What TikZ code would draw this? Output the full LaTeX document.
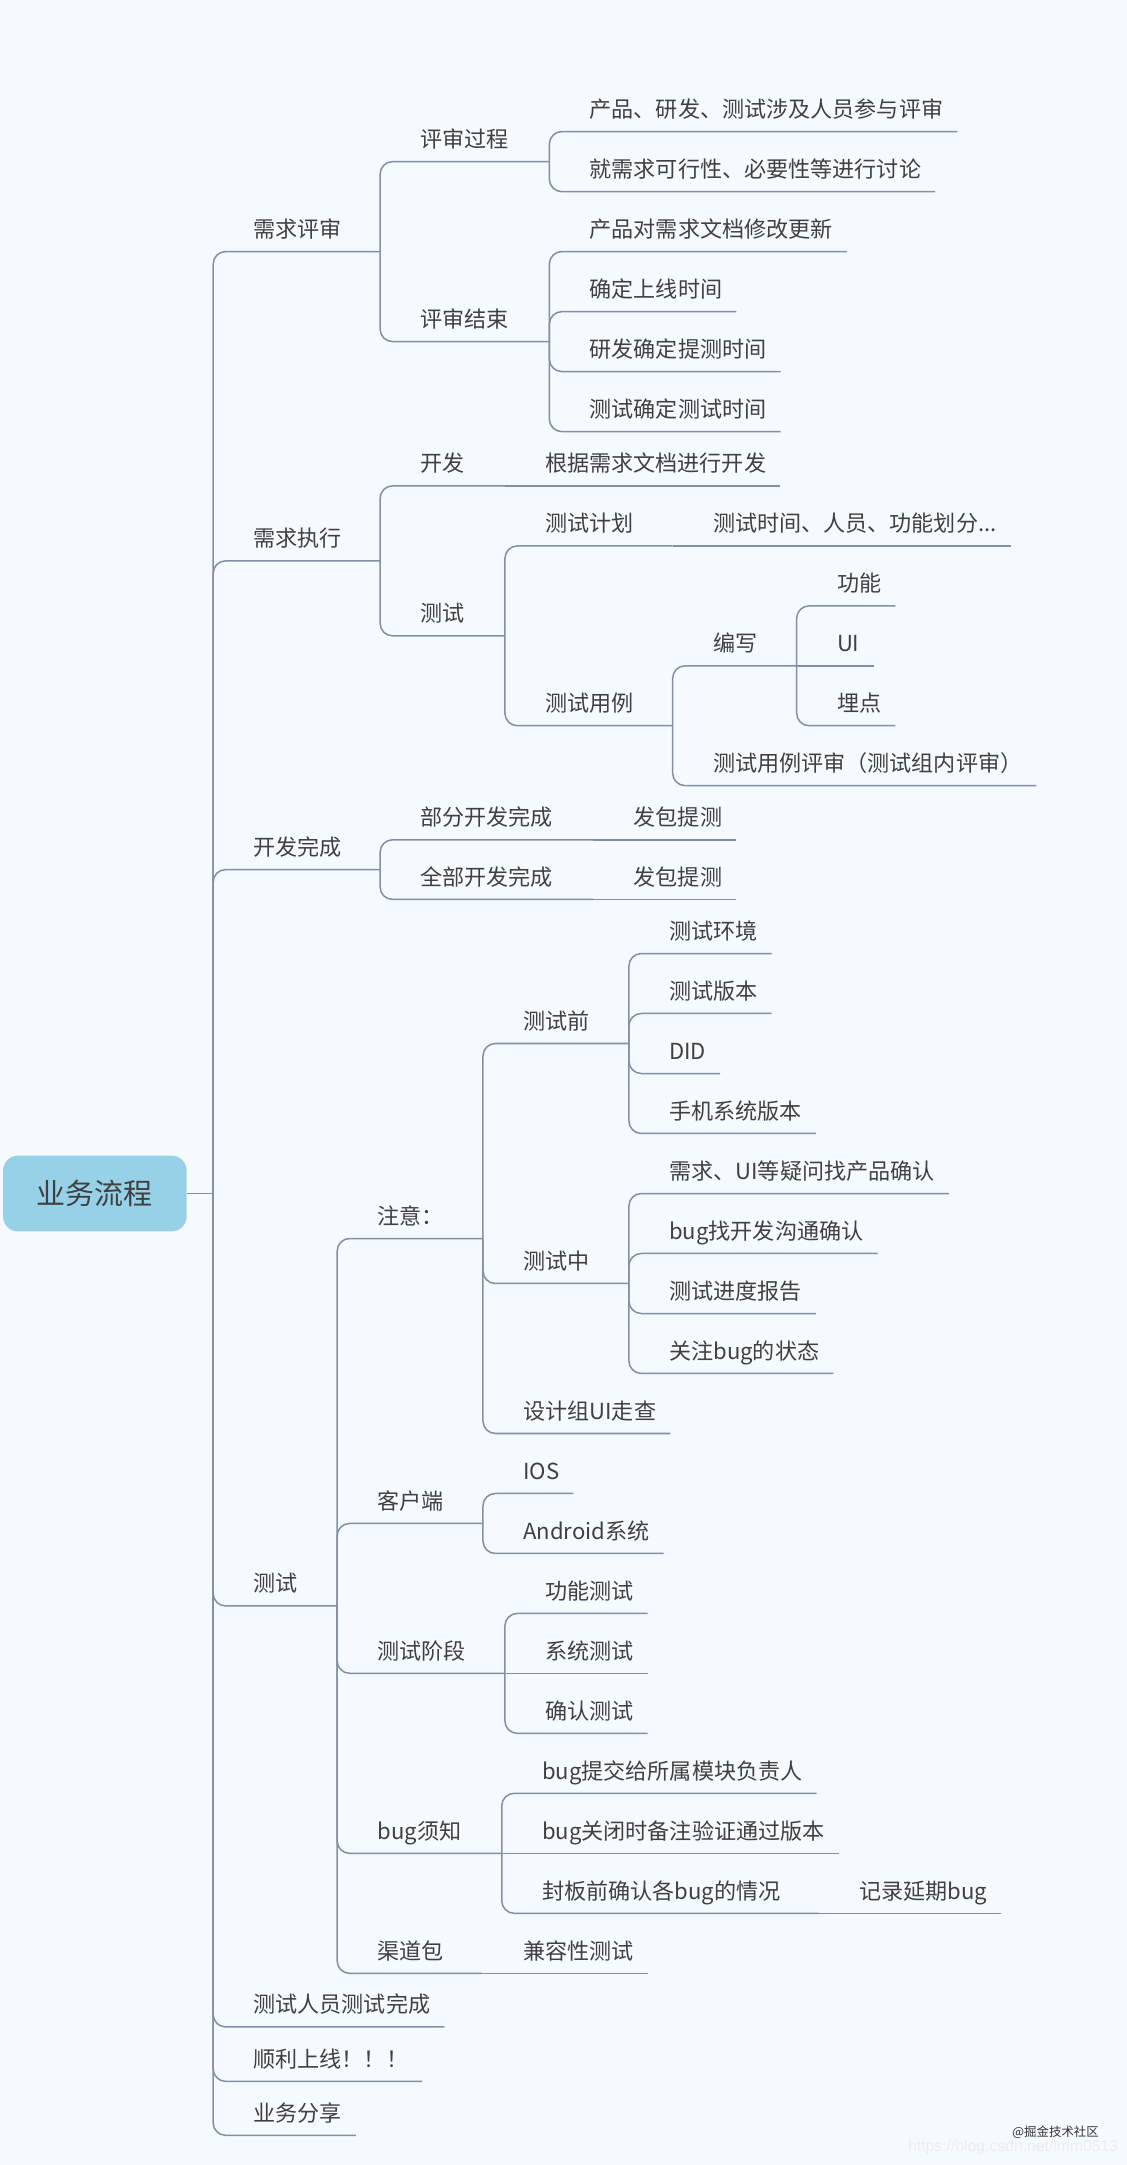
\documentclass[tikz,border=0pt]{standalone}
\usepackage{fontspec}
\setmainfont{Noto Sans CJK SC}
\newfontfamily\urlfont{Liberation Sans}
\usetikzlibrary{positioning, calc}
\definecolor{PaperBlue}{RGB}{245,250,254}
\definecolor{LineGrey}{RGB}{131,143,163}
\definecolor{TextGrey}{RGB}{64,64,64}
\definecolor{RootBlue}{RGB}{150,209,231}

\begin{document}
\begin{tikzpicture}[
    x=1pt, y=-1pt,
    topic/.style={anchor=south west, inner xsep=10pt, inner ysep=6pt,
        text height=12pt, text depth=4pt, text=TextGrey,
        font=\fontsize{16}{18}\selectfont},
    root/.style={fill=RootBlue, rounded corners=11pt, minimum width=133pt,
        minimum height=55pt, inner sep=0pt, text=TextGrey,
        text height=16pt, text depth=0pt, font=\fontsize{21}{24}\selectfont},
    link/.style={draw=LineGrey, line width=1.1pt, rounded corners=9pt},
]
\path[use as bounding box, fill=PaperBlue] (0,0) rectangle (816,1568);

% ---- 中心主题 ----
\node[root] (flow) at (68.7,864.4) {业务流程};
\coordinate (b-flow) at (154.4,864.4);
\draw[link] (flow.east) -- (b-flow);

% ---- 一级主题 ----
\node[topic] (review) at (173.4,182.2)  {需求评审};
\node[topic] (exec)   at (173.4,406.2)  {需求执行};
\node[topic] (done)   at (173.4,629.8)  {开发完成};
\node[topic] (test)   at (173.4,1163.1) {测试};
\node[topic] (finish) at (173.4,1468.0) {测试人员测试完成};
\node[topic] (online) at (173.4,1507.4) {顺利上线！！！};
\node[topic] (share)  at (173.4,1546.5) {业务分享};
\coordinate (b-review) at (275.3,182.2);
\coordinate (b-exec)   at (275.3,406.2);
\coordinate (b-done)   at (275.3,629.8);
\coordinate (b-test)   at (244.2,1163.1);
\foreach \c/\e in {review/b-review, exec/b-exec, done/b-done, test/b-test,
    finish/finish.south east, online/online.south east, share/share.south east}
    \draw[link] (b-flow) |- (\c.south west) -- (\e);

% ---- 需求评审 ----
\node[topic] (proc)  at (294.3,117.05) {评审过程};
\node[topic] (close) at (294.3,247.4)  {评审结束};
\coordinate (b-proc)  at (397.9,117.05);
\coordinate (b-close) at (397.9,247.4);
\node[topic] (proc-a)  at (416.9,95.3)  {产品、研发、测试涉及人员参与评审};
\node[topic] (proc-b)  at (416.9,138.8) {就需求可行性、必要性等进行讨论};
\node[topic] (close-a) at (416.9,182.2) {产品对需求文档修改更新};
\node[topic] (close-b) at (416.9,225.7) {确定上线时间};
\node[topic] (close-c) at (416.9,269.1) {研发确定提测时间};
\node[topic] (close-d) at (416.9,312.6) {测试确定测试时间};
\foreach \c/\e in {proc/b-proc, close/b-close} \draw[link] (b-review) |- (\c.south west) -- (\e);
\foreach \c in {proc-a, proc-b} \draw[link] (b-proc) |- (\c.south west) -- (\c.south east);
\foreach \c in {close-a, close-b, close-c, close-d} \draw[link] (b-close) |- (\c.south west) -- (\c.south east);

% ---- 需求执行 ----
\node[topic] (dev) at (294.3,351.9) {开发};
\node[topic] (qa)  at (294.3,460.5) {测试};
\coordinate (b-dev) at (365.7,351.9);
\coordinate (b-qa)  at (365.7,460.5);
\node[topic] (dev-a) at (384.7,351.9) {根据需求文档进行开发};
\node[topic] (plan)  at (384.7,395.4) {测试计划};
\node[topic] (case)  at (384.7,525.6) {测试用例};
\coordinate (b-plan) at (487.2,395.4);
\coordinate (b-case) at (487.2,525.6);
\node[topic] (plan-a)   at (506.2,395.4) {测试时间、人员、功能划分...};
\node[topic] (write)    at (506.2,482.2) {编写};
\node[topic] (case-rev) at (506.2,569.0) {测试用例评审（测试组内评审）};
\coordinate (b-write) at (577.0,482.2);
\node[topic] (write-a) at (596.0,438.8) {功能};
\node[topic] (write-b) at (596.0,482.2) {UI};
\node[topic] (write-c) at (596.0,525.6) {埋点};
\foreach \c/\e in {dev/b-dev, qa/b-qa} \draw[link] (b-exec) |- (\c.south west) -- (\e);
\draw[link] (b-dev) -- (dev-a.south west) -- (dev-a.south east);
\foreach \c/\e in {plan/b-plan, case/b-case} \draw[link] (b-qa) |- (\c.south west) -- (\e);
\draw[link] (b-plan) -- (plan-a.south west) -- (plan-a.south east);
\draw[link] (b-case) |- (write.south west) -- (b-write);
\draw[link] (b-case) |- (case-rev.south west) -- (case-rev.south east);
\foreach \c in {write-a, write-c} \draw[link] (b-write) |- (\c.south west) -- (\c.south east);
\draw[link] (b-write) -- (write-b.south west) -- (write-b.south east);

% ---- 开发完成 ----
\node[topic] (part) at (294.3,608.2) {部分开发完成};
\node[topic] (full) at (294.3,651.4) {全部开发完成};
\coordinate (b-part) at (429.8,608.2);
\coordinate (b-full) at (429.8,651.4);
\node[topic] (part-a) at (448.8,608.2) {发包提测};
\node[topic] (full-a) at (448.8,651.4) {发包提测};
\foreach \c/\e in {part/b-part, full/b-full} \draw[link] (b-done) |- (\c.south west) -- (\e);
\foreach \p/\c in {b-part/part-a, b-full/full-a} \draw[link] (\p) -- (\c.south west) -- (\c.south east);

% ---- 测试 ----
\node[topic] (note)    at (263.2,897.0)   {注意：};
\node[topic] (client)  at (263.2,1103.35) {客户端};
\node[topic] (stage)   at (263.2,1211.9)  {测试阶段};
\node[topic] (bugs)    at (263.2,1342.3)  {bug须知};
\node[topic] (channel) at (263.2,1429.2)  {渠道包};
\coordinate (b-note)    at (349.8,897.0);
\coordinate (b-client)  at (349.8,1103.35);
\coordinate (b-stage)   at (365.7,1211.9);
\coordinate (b-bugs)    at (363.4,1342.3);
\coordinate (b-channel) at (349.6,1429.2);
\foreach \c/\e in {note/b-note, client/b-client, stage/b-stage, bugs/b-bugs, channel/b-channel}
    \draw[link] (b-test) |- (\c.south west) -- (\e);

% 注意
\node[topic] (before) at (368.8,755.75) {测试前};
\node[topic] (during) at (368.8,929.55) {测试中};
\node[topic] (walk)   at (368.8,1038.2) {设计组UI走查};
\coordinate (b-before) at (455.5,755.75);
\coordinate (b-during) at (455.5,929.55);
\foreach \c/\e in {before/b-before, during/b-during, walk/walk.south east}
    \draw[link] (b-note) |- (\c.south west) -- (\e);
\node[topic] (env)   at (474.5,690.6) {测试环境};
\node[topic] (ver)   at (474.5,734.0) {测试版本};
\node[topic] (did)   at (474.5,777.5) {DID};
\node[topic] (phone) at (474.5,820.9) {手机系统版本};
\foreach \c in {env, ver, did, phone} \draw[link] (b-before) |- (\c.south west) -- (\c.south east);
\node[topic] (ask)    at (474.5,864.4) {需求、UI等疑问找产品确认};
\node[topic] (talk)   at (474.5,907.8) {bug找开发沟通确认};
\node[topic] (report) at (474.5,951.3) {测试进度报告};
\node[topic] (watch)  at (474.5,994.7) {关注bug的状态};
\foreach \c in {ask, talk, report, watch} \draw[link] (b-during) |- (\c.south west) -- (\c.south east);

% 客户端 / 测试阶段
\node[topic] (ios)     at (368.8,1081.6) {IOS};
\node[topic] (android) at (368.8,1125.1) {Android系统};
\foreach \c in {ios, android} \draw[link] (b-client) |- (\c.south west) -- (\c.south east);
\node[topic] (func)    at (384.7,1168.5) {功能测试};
\node[topic] (sys)     at (384.7,1211.9) {系统测试};
\node[topic] (confirm) at (384.7,1255.4) {确认测试};
\foreach \c in {func, confirm} \draw[link] (b-stage) |- (\c.south west) -- (\c.south east);
\draw[link] (b-stage) -- (sys.south west) -- (sys.south east);

% bug须知 / 渠道包
\node[topic] (submit)   at (382.4,1298.8) {bug提交给所属模块负责人};
\node[topic] (closebug) at (382.4,1342.3) {bug关闭时备注验证通过版本};
\node[topic] (seal)     at (382.4,1385.7) {封板前确认各bug的情况};
\coordinate (b-seal) at (593.3,1385.7);
\node[topic] (delay)  at (612.3,1385.7) {记录延期bug};
\draw[link] (b-bugs) |- (submit.south west) -- (submit.south east);
\draw[link] (b-bugs) -- (closebug.south west) -- (closebug.south east);
\draw[link] (b-bugs) |- (seal.south west) -- (b-seal);
\draw[link] (b-seal) -- (delay.south west) -- (delay.south east);
\node[topic] (compat) at (368.6,1429.2) {兼容性测试};
\draw[link] (b-channel) -- (compat.south west) -- (compat.south east);

% 水印
\node[font=\fontsize{9}{10}\selectfont, text=black!80, anchor=east, inner sep=0pt] (mark) at (796,1544) {@掘金技术社区};
\node[font=\urlfont\fontsize{11.4}{12}\selectfont, text=white!85!gray, anchor=east, inner sep=0pt] (url) at (810,1555) {https://blog.csdn.net/lmm0513};

\end{tikzpicture}
\end{document}
